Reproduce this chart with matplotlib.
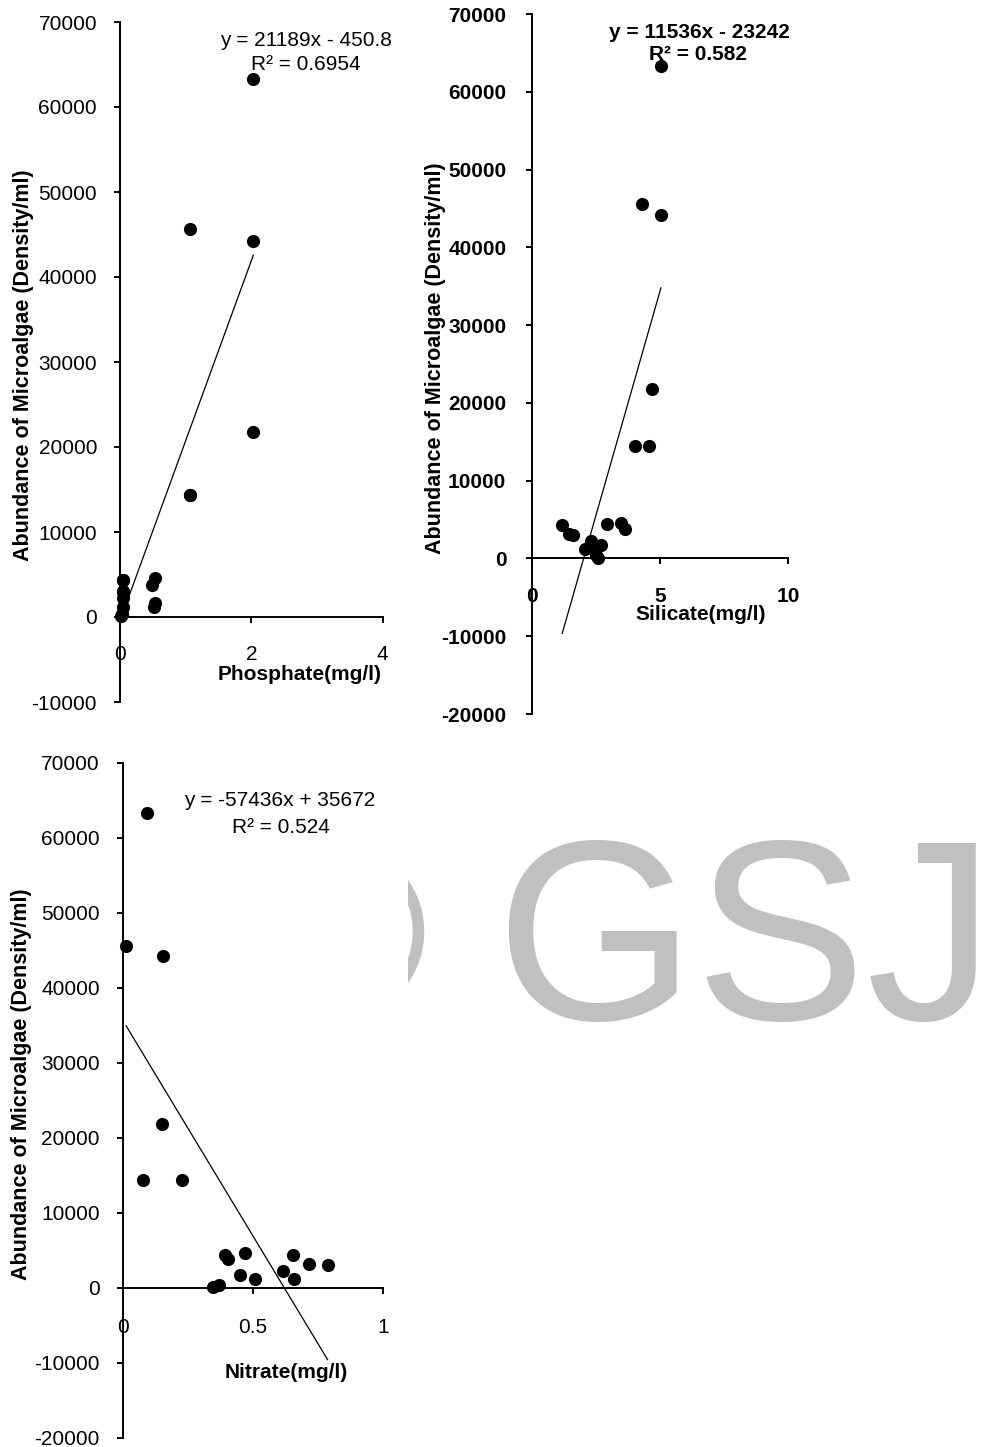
# Scatter plots - microalgae abundance against nutrients

import matplotlib
matplotlib.use("Agg")
import matplotlib.pyplot as plt
import numpy as np

plt.rcParams["font.family"] = ["Liberation Sans", "DejaVu Sans"]
plt.rcParams["axes.unicode_minus"] = False

# Abundance of microalgae (density/ml), one value per sample
abundance = [63300, 45600, 44200, 21800, 14400, 14400, 4400, 3800, 4600,
             1700, 1200, 100, 400, 4300, 2200, 3100, 3000, 1200]
# Nutrients (mg/l) for the same samples
phosphate = [2.02, 1.06, 2.03, 2.03, 1.06, 1.07, 0.04, 0.49, 0.53,
             0.53, 0.52, 0.02, 0.03, 0.04, 0.04, 0.04, 0.04, 0.04]
silicate = [5.03, 4.30, 5.03, 4.68, 4.01, 4.55, 2.93, 3.62, 3.49,
            2.68, 2.08, 2.58, 2.50, 1.18, 2.31, 1.44, 1.60, 2.40]
nitrate = [0.094, 0.013, 0.154, 0.150, 0.077, 0.228, 0.394, 0.406, 0.470,
           0.453, 0.510, 0.346, 0.372, 0.654, 0.618, 0.715, 0.788, 0.659]

# Trendline coefficients (slope, intercept) as printed on the charts
phos_fit = (21189, -450.8)
sil_fit = (11536, -23242)
nit_fit = (-57436, 35672)

phos_xticks = [0, 2, 4]
sil_xticks = [0, 5, 10]
nit_xticks = [0, 0.5, 1]
nit_xticklabels = ["0", "0.5", "1"]
phos_yticks = list(range(-10000, 70001, 10000))
other_yticks = list(range(-20000, 70001, 10000))

W, H = 989, 1447
fig = plt.figure(figsize=(W / 100, H / 100), dpi=100)


def px_axes(left, top, right, bottom):
    return fig.add_axes([left / W, 1 - bottom / H, (right - left) / W, (bottom - top) / H])


def px_text(x, y, s, **kw):
    fig.text(x / W, 1 - y / H, s, ha="center", va="center", **kw)


def panel(ax, x, y, fit, xlim, ylim, xticks, xticklabels, yticks, bold, xpad, ypad):
    ax.scatter(x, y, s=90, color="black", linewidths=0, zorder=3, clip_on=False)
    xs = np.array([min(x), max(x)])
    ax.plot(xs, fit[0] * xs + fit[1], color="black", lw=0.9, zorder=2)
    ax.set_xlim(*xlim)
    ax.set_ylim(*ylim)
    ax.set_xticks(xticks)
    ax.set_xticklabels(xticklabels)
    ax.set_yticks(yticks)
    ax.set_yticklabels([str(v) for v in yticks])
    ax.spines["top"].set_visible(False)
    ax.spines["right"].set_visible(False)
    ax.spines["bottom"].set_position(("data", 0))
    ax.spines["left"].set_linewidth(1.4)
    ax.spines["bottom"].set_linewidth(1.4)
    ax.tick_params(direction="out", length=4.5, width=1.4, labelsize=15)
    ax.tick_params(axis="x", pad=xpad)
    ax.tick_params(axis="y", pad=ypad)
    weight = "bold" if bold else "normal"
    for lab in ax.get_xticklabels() + ax.get_yticklabels():
        lab.set_fontweight(weight)
    ax.patch.set_alpha(0)


# Phosphate
ax1 = px_axes(120, 22, 382.7, 702)
panel(ax1, phosphate, abundance, phos_fit, (0, 4), (-10000, 70000),
      phos_xticks, [str(v) for v in phos_xticks], phos_yticks, False, 16, 12)
px_text(24, 365, "Abundance of Microalgae (Density/ml)", rotation=90, fontsize=15.5, fontweight="bold")
px_text(300, 675, "Phosphate(mg/l)", fontsize=15, fontweight="bold")
px_text(306, 40, "y = 21189x - 450.8", fontsize=15)
px_text(306, 64, "R² = 0.6954", fontsize=15)

# Silicate
ax2 = px_axes(532, 14, 788.3, 714)
panel(ax2, silicate, abundance, sil_fit, (0, 10), (-20000, 70000),
      sil_xticks, [str(v) for v in sil_xticks], other_yticks, True, 16, 14)
px_text(435, 358, "Abundance of Microalgae (Density/ml)", rotation=90, fontsize=15.5, fontweight="bold")
px_text(701, 615, "Silicate(mg/l)", fontsize=15, fontweight="bold")
px_text(699, 32, "y = 11536x - 23242", fontsize=15, fontweight="bold")
px_text(698, 54, "R² = 0.582", fontsize=15, fontweight="bold")

# Nitrate
ax3 = px_axes(122.7, 762.7, 382.7, 1437.7)
panel(ax3, nitrate, abundance, nit_fit, (0, 1), (-20000, 70000),
      nit_xticks, nit_xticklabels, other_yticks, False, 17, 12)
px_text(22, 1084, "Abundance of Microalgae (Density/ml)", rotation=90, fontsize=15.5, fontweight="bold")
px_text(286, 1373, "Nitrate(mg/l)", fontsize=15, fontweight="bold")
px_text(280, 800.5, "y = -57436x + 35672", fontsize=15)
px_text(281, 827.5, "R² = 0.524", fontsize=15)

# Watermark, clipped on its left side
wm = px_axes(408, 780, 989, 1120)
wm.axis("off")
wm.set_xlim(408, 989)
wm.set_ylim(1120, 780)
wm.text(745, 1020, "GSJ", fontsize=185, color="#c0c0c0", ha="center", va="baseline", clip_on=True)
wm.text(427, 1020, "©", fontsize=185, color="#c0c0c0", ha="right", va="baseline", clip_on=True)

fig.savefig("out.png", dpi=100)
